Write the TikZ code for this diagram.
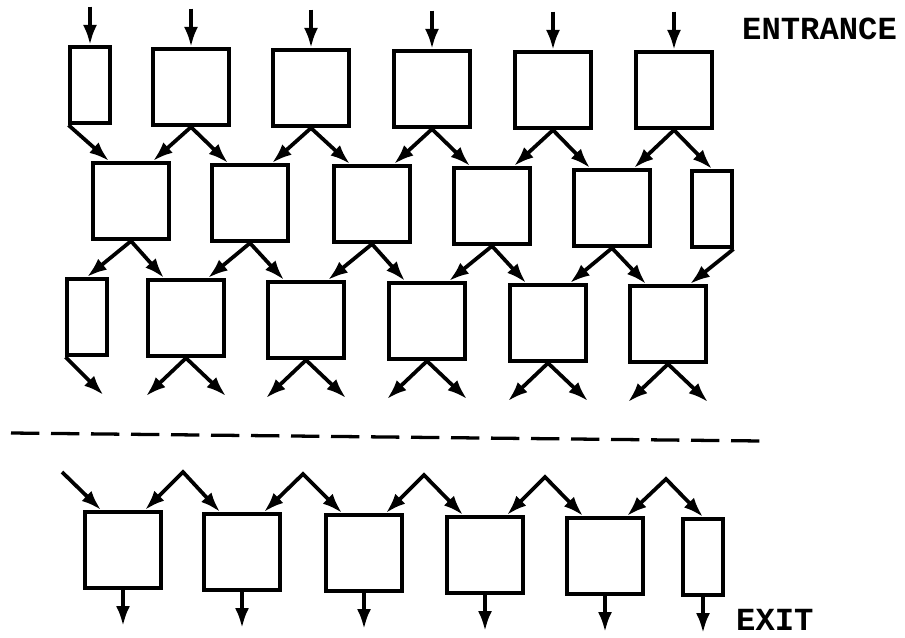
\documentclass[tikz,border=0pt]{standalone}
\usepackage{fontspec}
\newfontfamily\labelfont{Liberation Mono}
\usepackage{tikz}
\usetikzlibrary{arrows.meta,positioning}
\tikzset{
	cell/.style={draw,line width=3.2pt,inner sep=0pt,minimum width=2.29cm,minimum height=2.29cm},
	halfcell/.style={cell,minimum width=1.18cm},
	flow/.style={-{Latex[length=6mm,width=4.2mm]},line width=3.2pt},
	split/.style={{Latex[length=6mm,width=4.2mm]}-{Latex[length=6mm,width=4.2mm]},line width=3.2pt,line join=miter},
	tag/.style={font=\labelfont\bfseries\fontsize{27.5}{30}\selectfont,inner sep=0pt}
}

\begin{document}
\begin{tikzpicture}[x=0.03cm,y=-0.03cm]
		\useasboundingbox (0,0) rectangle (905,637);
		\node[halfcell] (a1) at (90,85) {};
		\foreach \n/\x/\y in {a2/191/87,a3/311/88,a4/432/89,a5/553/90,a6/674/90,
			b1/131/201,b2/250/203,b3/372/204,b4/492/206,b5/612/208,
			c2/186/318,c3/306/320,c4/427/321,c5/548/323,c6/668/324,
			d1/123/550,d2/242/552,d3/364/553,d4/485/555,d5/605/556}
			\node[cell] (\n) at (\x,\y) {};
		\node[halfcell] (b6) at (712,209) {};
		\node[halfcell] (c1) at (87,317) {};
		\node[halfcell] (d6) at (703,557) {};
		\foreach \i in {1,...,6}
			\draw[flow] ([yshift=1.15cm]a\i.north) -- (a\i.north);
		\draw[flow] (a1.south west) -- ([xshift=-0.66cm]b1.north);
		\foreach \i/\j in {2/1,3/2,4/3,5/4}
			\draw[split] ([xshift=0.66cm]b\j.north) -- (a\i.south) -- ([xshift=-0.66cm]b\i.north);
		\draw[split] ([xshift=0.66cm]b5.north) -- (a6.south) -- (b6.north);
		\draw[split] (c1.north) -- (b1.south) -- ([xshift=-0.66cm]c2.north);
		\foreach \i/\j in {2/3,3/4,4/5,5/6}
			\draw[split] ([xshift=0.66cm]c\i.north) -- (b\i.south) -- ([xshift=-0.66cm]c\j.north);
		\draw[flow] (b6.south east) -- ([xshift=0.66cm]c6.north);
		\draw[flow] (c1.south west) -- ++(38,38);
		\foreach \i in {2,...,6}
			\draw[split] ([shift={(-40,38)}]c\i.south) -- (c\i.south) -- ([shift={(40,38)}]c\i.south);
		\draw[line width=2.8pt,dash pattern=on 0.85cm off 0.35cm] (11,433) -- (762,441);
		\coordinate (p0) at (62,472);
		\coordinate (p1) at (183,472);
		\coordinate (p2) at (303,474);
		\coordinate (p3) at (424,475);
		\coordinate (p4) at (545,477);
		\coordinate (p5) at (666,479);
		\draw[flow] (p0) -- ([xshift=-0.66cm]d1.north);
		\foreach \i/\j in {1/2,2/3,3/4,4/5}
			\draw[split] ([xshift=0.66cm]d\i.north) -- (p\i) -- ([xshift=-0.66cm]d\j.north);
		\draw[split] ([xshift=0.66cm]d5.north) -- (p5) -- (d6.north);
		\foreach \i in {1,...,6}
			\draw[flow] (d\i.south) -- ++(0,36);
		\node[tag,anchor=base west] (entrance) at (742,39) {ENTRANCE};
		\node[tag,anchor=base west] (exit) at (736,630) {EXIT};
	\end{tikzpicture}
\end{document}
